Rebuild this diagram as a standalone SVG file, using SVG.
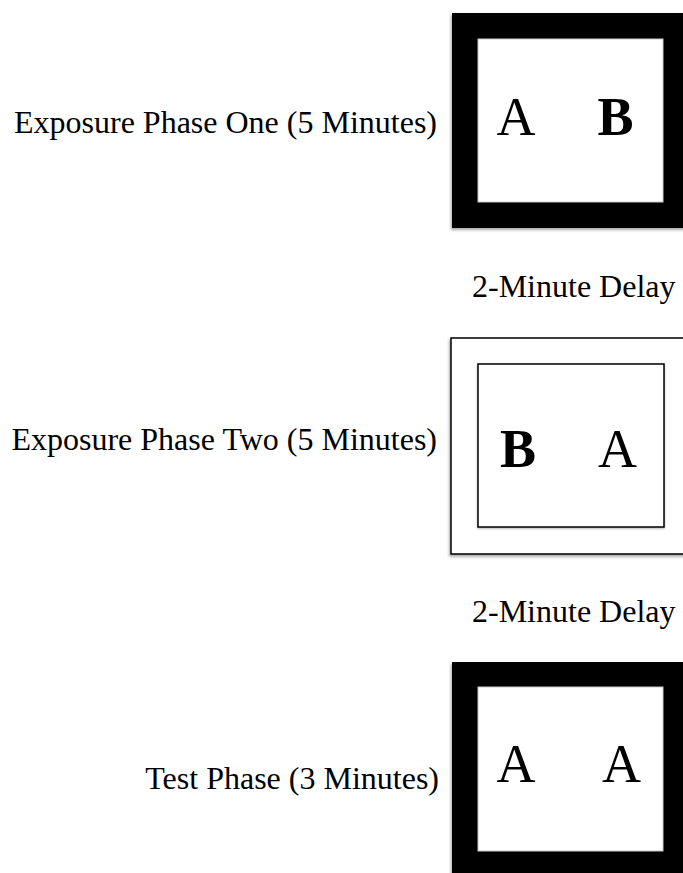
<svg xmlns="http://www.w3.org/2000/svg" width="683" height="873" viewBox="0 0 683 873">
  <defs>
    <filter id="shadow" x="-10%" y="-10%" width="120%" height="120%">
      <feDropShadow dx="-1" dy="2" stdDeviation="1.5" flood-color="#000" flood-opacity="0.35"/>
    </filter>
    <filter id="shadowIn" x="-10%" y="-10%" width="120%" height="120%">
      <feDropShadow dx="0" dy="1" stdDeviation="1" flood-color="#000" flood-opacity="0.3"/>
    </filter>
  </defs>
  <style>
    .label { font-family: "Liberation Serif", "Times New Roman", serif; font-size: 32px; fill: #000; }
    .letter { font-family: "Liberation Serif", "Times New Roman", serif; font-size: 54px; fill: #000; text-anchor: middle; }
    .bold { font-weight: bold; }
    .thick { fill: #000; filter: url(#shadow); }
    .thickInner { fill: #fff; stroke: #c8c8c8; stroke-width: 1; }
    .thinOuter { fill: #fff; stroke: #000; stroke-width: 1.5; filter: url(#shadow); }
    .thinInner { fill: #fff; stroke: #000; stroke-width: 1.5; filter: url(#shadowIn); }
  </style>
  <rect x="0" y="0" width="683" height="873" fill="#fff"/>

  <g id="phase1">
    <text class="label" x="437" y="133" text-anchor="end">Exposure Phase One (5 Minutes)</text>
    <rect class="thick" x="452" y="13" width="240" height="215"/>
    <rect class="thickInner" x="478" y="39" width="185" height="163"/>
    <text class="letter" x="516" y="135">A</text>
    <text class="letter bold" x="615.5" y="135">B</text>
  </g>

  <g id="delay1">
    <text class="label" x="472" y="297">2-Minute Delay</text>
  </g>

  <g id="phase2">
    <text class="label" x="437" y="450" text-anchor="end">Exposure Phase Two (5 Minutes)</text>
    <rect class="thinOuter" x="451" y="338" width="240" height="216"/>
    <rect class="thinInner" x="478" y="364" width="186" height="163"/>
    <text class="letter bold" x="518" y="467">B</text>
    <text class="letter" x="617.5" y="467">A</text>
  </g>

  <g id="delay2">
    <text class="label" x="472" y="622">2-Minute Delay</text>
  </g>

  <g id="test">
    <text class="label" x="439" y="789" text-anchor="end">Test Phase (3 Minutes)</text>
    <rect class="thick" x="452" y="662" width="240" height="216"/>
    <rect class="thickInner" x="478" y="687" width="185" height="164"/>
    <text class="letter" x="516" y="782">A</text>
    <text class="letter" x="621.5" y="782">A</text>
  </g>
</svg>
